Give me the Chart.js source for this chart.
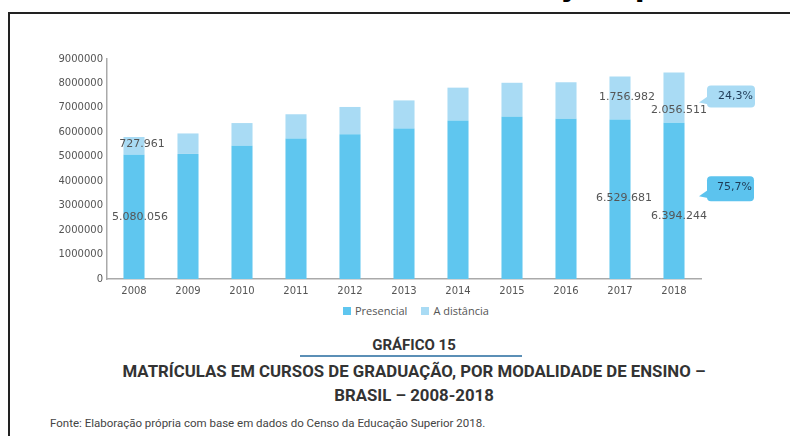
<!DOCTYPE html>
<html>
<head>
<meta charset="utf-8">
<script src="https://cdn.jsdelivr.net/npm/chart.js@4.4.0/dist/chart.umd.min.js"></script>
<style>
  body { margin: 0; width: 790px; height: 436px; overflow: hidden; background: #fff; position: relative; }
  .abs { position: absolute; }
  #frameTop { left: 8px; top: 12px; width: 782px; height: 2px; background: #222; }
  #frameLeft { left: 8px; top: 12px; width: 2px; height: 424px; background: #222; }
  #cut { left: 557px; top: -42px; font: bold 34px "Open Sans"; color: #000; white-space: pre; }
  #legend { top: 304px; left: 343px; display: flex; font: 11px "Open Sans"; color: #555; line-height: 14px; }
  #legend span.item { display: flex; align-items: center; margin-right: 14px; }
  #legend i { display: inline-block; width: 8px; height: 8px; margin-right: 4px; }
  .center { left: 0; width: 828px; text-align: center; color: #333; font-family: Roboto; }
  #kicker { top: 336px; font-weight: 700; font-size: 15px; line-height: 18px; }
  #rule { left: 300px; top: 355px; width: 222px; height: 2px; background: #5b8fb6; }
  #title1 { top: 361px; font-weight: 700; font-size: 16.8px; line-height: 20px; }
  #title2 { top: 385px; font-weight: 700; font-size: 16.8px; line-height: 20px; }
  #fonte { left: 50px; top: 416px; font: 11.5px Roboto; color: #444; line-height: 14px; }
</style>
</head>
<body>
<div class="abs" id="cut">ção, p</div>
<div class="abs" id="frameTop"></div>
<div class="abs" id="frameLeft"></div>
<canvas class="abs" id="chart" width="790" height="300" style="left:0;top:0"></canvas>
<div class="abs" id="legend"></div>
<div class="abs center" id="kicker">GRÁFICO 15</div>
<div class="abs" id="rule"></div>
<div class="abs center" id="title1">MATRÍCULAS EM CURSOS DE GRADUAÇÃO, POR MODALIDADE DE ENSINO –</div>
<div class="abs center" id="title2">BRASIL – 2008-2018</div>
<div class="abs" id="fonte">Fonte: Elaboração própria com base em dados do Censo da Educação Superior 2018.</div>
<script>
// data
let years = ["2008", "2009", "2010", "2011", "2012", "2013", "2014", "2015", "2016", "2017", "2018"];
let presencial = [5080056, 5115896, 5449120, 5746762, 5923838, 6152405, 6486171, 6633545, 6554283, 6529681, 6394244];
let distancia = [727961, 838125, 930179, 992927, 1113850, 1153572, 1341842, 1393752, 1494418, 1756982, 2056511];
let seriesNames = ["Presencial", "A distância"];
let yTicks = [0, 1000000, 2000000, 3000000, 4000000, 5000000, 6000000, 7000000, 8000000, 9000000];

let colors = ["#5fc6ef", "#a9dbf4"];

// 1.234.567 style
let fmtNumber = (n) => String(n).replace(/\B(?=(\d{3})+(?!\d))/g, ".");

// which bars get a value label: [dataset, index, dx, dy]
let labelSpots = [
      [1, 0, 8, -2], [0, 0, 6, 0],
      [1, 9, 7, -1], [0, 9, 4, -1],
      [1, 10, 5, 13], [0, 10, 5, 15]
];

let legendEl = document.getElementById("legend");
seriesNames.forEach((name, i) => {
      legendEl.innerHTML += `<span class="item"><i style="background:${colors[i]}"></i>${name}</span>`;
});

let valueLabels = {
      id: "valueLabels",
      afterDatasetsDraw(chart) {
            let ctx = chart.ctx;
            ctx.save();
            ctx.font = '11px "DejaVu Sans"';
            ctx.fillStyle = "#555";
            ctx.textAlign = "center";
            ctx.textBaseline = "middle";
            labelSpots.forEach(([ds, i, dx, dy]) => {
                  let bar = chart.getDatasetMeta(ds).data[i];
                  let mid = (bar.y + bar.base) / 2;
                  ctx.fillText(fmtNumber(chart.data.datasets[ds].data[i]), bar.x + dx, mid + dy);
            });
            ctx.restore();
      }
};

// share bubbles next to the last bar
let shareBubbles = {
      id: "shareBubbles",
      afterDatasetsDraw(chart) {
            let ctx = chart.ctx;
            let last = years.length - 1;
            let total = presencial[last] + distancia[last];
            let spots = [
                  { ds: 1, share: distancia[last] / total, dy: -1, h: 22, w: 48, fill: "#a9dbf4" },
                  { ds: 0, share: presencial[last] / total, dy: -12, h: 25, w: 47, fill: "#5cc3ee" }
            ];
            ctx.save();
            spots.forEach((s) => {
                  let bar = chart.getDatasetMeta(s.ds).data[last];
                  let cy = (bar.y + bar.base) / 2 + s.dy;
                  let left = bar.x + 33, top = cy - s.h / 2, bottom = cy + s.h / 2;
                  ctx.fillStyle = s.fill;
                  ctx.beginPath();
                  ctx.roundRect(left, top, s.w, s.h, 4);
                  ctx.fill();
                  ctx.beginPath();
                  ctx.moveTo(left + 2, bottom - 12);
                  ctx.lineTo(left - 8, bottom - 5);
                  ctx.lineTo(left + 2, bottom - 3);
                  ctx.closePath();
                  ctx.fill();
                  ctx.font = '11px "DejaVu Sans"';
                  ctx.fillStyle = "#1f3b57";
                  ctx.textAlign = "right";
                  ctx.textBaseline = "middle";
                  ctx.fillText((s.share * 100).toFixed(1).replace(".", ",") + "%", left + s.w - 2, top + 11);
            });
            ctx.restore();
      }
};

let axisColor = "#aaa";
let tickFont = { family: "DejaVu Sans", size: 10 };

new Chart(document.getElementById("chart").getContext("2d"), {
      type: "bar",
      data: {
            labels: years,
            datasets: [
                  { label: seriesNames[0], data: presencial, backgroundColor: colors[0] },
                  { label: seriesNames[1], data: distancia, backgroundColor: colors[1] }
            ]
      },
      options: {
            responsive: false,
            animation: false,
            devicePixelRatio: 1,
            categoryPercentage: 1,
            barPercentage: 0.39,
            layout: { padding: { top: 59, right: 89, left: 0, bottom: 0 } },
            plugins: { legend: { display: false }, tooltip: { enabled: false } },
            scales: {
                  x: {
                        stacked: true,
                        grid: { display: false, drawTicks: false },
                        border: { color: axisColor, width: 1.5 },
                        ticks: { color: "#555", font: tickFont, padding: 6, maxRotation: 0 },
                        afterFit: (scale) => { scale.height = 21; }
                  },
                  y: {
                        stacked: true,
                        min: 0,
                        max: 9000000,
                        grid: { display: false, drawTicks: false },
                        border: { color: axisColor, width: 1.5 },
                        afterBuildTicks: (scale) => { scale.ticks = yTicks.map((v) => ({ value: v })); },
                        ticks: { color: "#555", font: tickFont, padding: 4, callback: (v) => String(v) },
                        afterFit: (scale) => { scale.width = 107; }
                  }
            }
      },
      plugins: [valueLabels, shareBubbles]
});
</script>
</body>
</html>
